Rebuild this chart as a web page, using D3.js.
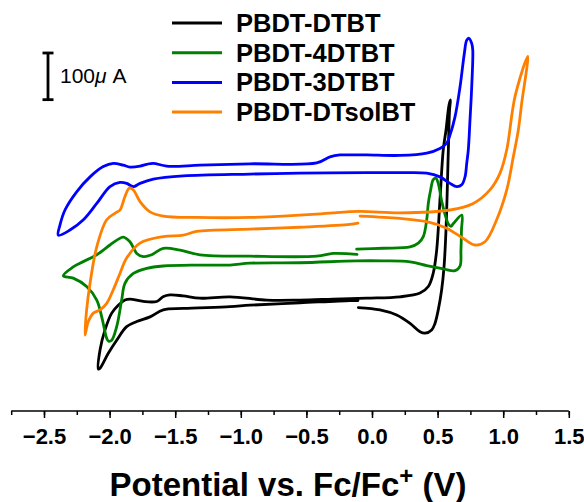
<!DOCTYPE html>
<html>
<head>
<meta charset="utf-8">
<script src="https://cdn.jsdelivr.net/npm/d3@7"></script>
<style>
  html, body { margin: 0; padding: 0; background: #fff; }
  svg { display: block; }
  text { font-family: "Liberation Sans", Arial, sans-serif; }
</style>
</head>
<body>
<script>
// ---- data (potential in V vs Fc/Fc+, current in µA, curves offset) ----
const seriesNames = ["PBDT-DTBT", "PBDT-4DTBT", "PBDT-3DTBT", "PBDT-DTsolBT"];
const seriesColors = ["#000000", "#008000", "#0000ff", "#ff8000"];

const dtbtV = [-0.104,0.061,0.188,0.290,0.366,0.404,0.455,0.480,0.505,0.531,0.549,0.564,0.582,0.591,0.598,0.587,0.564,0.543,0.518,0.493,0.467,0.429,0.366,0.213,-0.040,-0.297,-0.549,-0.803,-1.082,-1.311,-1.441,-1.540,-1.593,-1.641,-1.743,-1.845,-1.883,-1.934,-1.984,-2.035,-2.073,-2.086,-2.073,-2.010,-1.946,-1.870,-1.793,-1.692,-1.591,-1.438,-1.082,-0.930,-0.549,-0.168,-0.107];
const dtbtI = [241,236,225,207,189,186,193,207,236,279,328,407,579,664,686,675,621,579,471,364,315,286,272,264,261,259,257,257,264,261,266,268,264,254,254,259,257,246,229,193,150,109,111,143,171,200,211,221,236,239,243,246,251,256,256];

const d4V = [-0.117,0.086,0.290,0.353,0.391,0.417,0.429,0.447,0.467,0.488,0.505,0.531,0.556,0.582,0.602,0.620,0.684,0.682,0.678,0.671,0.633,0.543,0.417,0.290,0.086,-0.117,-0.549,-0.930,-1.082,-1.336,-1.591,-1.717,-1.819,-1.883,-1.908,-1.946,-1.984,-2.008,-2.022,-2.060,-2.098,-2.175,-2.277,-2.353,-2.277,-2.226,-2.098,-1.997,-1.936,-1.896,-1.845,-1.793,-1.743,-1.679,-1.591,-1.463,-1.311,-0.930,-0.421,-0.297,-0.168,-0.114];
const d4I = [366,368,371,379,393,429,464,493,515,518,507,469,441,420,415,421,439,407,364,330,320,324,331,339,341,341,337,336,332,332,330,325,314,293,257,200,171,169,175,221,257,286,304,309,328,336,354,375,387,392,382,357,350,354,368,364,354,351,351,357,356,355];

const d3V = [-0.168,-0.040,0.213,0.417,0.518,0.569,0.595,0.633,0.671,0.704,0.722,0.739,0.760,0.768,0.760,0.747,0.734,0.722,0.709,0.684,0.646,0.595,0.518,0.417,0.213,-0.040,-0.549,-0.930,-1.438,-1.667,-1.768,-1.819,-1.870,-1.921,-1.997,-2.098,-2.200,-2.302,-2.391,-2.378,-2.340,-2.251,-2.149,-2.048,-1.972,-1.896,-1.845,-1.768,-1.717,-1.667,-1.565,-1.311,-0.930,-0.421,-0.320,-0.244,-0.168];
const d3I = [568,568,567,572,582,593,611,650,714,786,814,818,807,793,714,643,579,550,521,504,500,507,521,529,530,530,529,527,523,516,507,500,507,509,500,464,429,407,396,418,450,489,521,543,550,546,542,544,548,550,544,546,549,551,564,568,568];

const solV = [-0.091,0.213,0.417,0.569,0.696,0.785,0.861,0.950,1.027,1.077,1.115,1.141,1.187,1.090,1.027,0.976,0.899,0.772,0.595,0.213,-0.091,-0.297,-0.421,-0.930,-1.336,-1.591,-1.692,-1.768,-1.819,-1.850,-1.883,-1.921,-1.959,-2.022,-2.098,-2.149,-2.175,-2.188,-2.162,-2.124,-2.073,-2.022,-1.972,-1.921,-1.870,-1.768,-1.591,-1.438,-1.336,-0.930,-0.549,-0.168,-0.107];
const solI = [437,432,425,411,389,375,382,429,493,564,621,679,779,693,579,529,493,464,450,444,447,444,441,434,434,437,446,468,493,497,479,450,443,429,371,293,236,182,211,229,236,250,279,314,347,379,393,396,404,409,413,419,422];

const xTicks = [-2.5, -2.0, -1.5, -1.0, -0.5, 0.0, 0.5, 1.0, 1.5];
const scaleBarValue = 100; // µA

const seriesV = [dtbtV, d4V, d3V, solV];
const seriesI = [dtbtI, d4I, d3I, solI];

// ---- layout ----
const W = 584, H = 502;
const svg = d3.select("body").append("svg").attr("width", W).attr("height", H);

const x = d3.scaleLinear().domain([-2.75, 1.5]).range([11.2, 568.8]);
const y = d3.scaleLinear().domain([0, 900]).range([420, 0]);
const axisY = 411;

// curves
const line = d3.line().x(d => x(d[0])).y(d => y(d[1])).curve(d3.curveCatmullRom.alpha(0.5));
seriesV.forEach((vs, k) => {
  const pts = vs.map((v, i) => [v, seriesI[k][i]]);
  svg.append("path").datum(pts)
    .attr("d", line)
    .attr("fill", "none")
    .attr("stroke", seriesColors[k])
    .attr("stroke-width", 2.8)
    .attr("stroke-linejoin", "round")
    .attr("stroke-linecap", "round");
});

// x axis
const minorTicks = d3.range(-2.75, 1.5001, 0.25);
const gAxis = svg.append("g").attr("transform", `translate(0,${axisY})`);
gAxis.call(d3.axisBottom(x).tickValues(minorTicks).tickSize(4).tickFormat(""));
gAxis.call(g => g.select(".domain").remove());
gAxis.append("g").call(d3.axisBottom(x).tickValues(xTicks).tickSize(7).tickPadding(10)
    .tickFormat(d3.format(".1f")))
  .call(g => g.select(".domain").remove())
  .call(g => g.selectAll("text").attr("font-size", 22).attr("font-weight", "bold")
      .attr("fill", "#000").attr("font-family", "Liberation Sans, Arial, sans-serif"));
gAxis.selectAll("line").attr("stroke", "#000").attr("stroke-width", 1.5);
gAxis.append("line").attr("x1", x(-2.75)).attr("x2", x(1.5)).attr("y1", 0).attr("y2", 0)
  .attr("stroke", "#000").attr("stroke-width", 1.5);

// axis title
const title = svg.append("text").attr("x", 288).attr("y", 496)
  .attr("text-anchor", "middle").attr("font-size", 33).attr("font-weight", "bold");
title.append("tspan").text("Potential vs. Fc/Fc");
title.append("tspan").text("+").attr("font-size", 24).attr("dy", -12);
title.append("tspan").text(" (V)").attr("dy", 12);

// scale bar
const sbX = 48, sbTop = 53;
const sbBottom = sbTop + (y(0) - y(scaleBarValue));
const sb = svg.append("g").attr("stroke", "#000").attr("stroke-width", 2.8);
sb.append("line").attr("x1", sbX).attr("x2", sbX).attr("y1", sbTop).attr("y2", sbBottom);
sb.append("line").attr("x1", sbX - 5.5).attr("x2", sbX + 5.5).attr("y1", sbTop).attr("y2", sbTop);
sb.append("line").attr("x1", sbX - 5.5).attr("x2", sbX + 5.5).attr("y1", sbBottom).attr("y2", sbBottom);
const sbt = svg.append("text").attr("x", 60).attr("y", (sbTop + sbBottom) / 2 + 7)
  .attr("font-size", 21);
sbt.append("tspan").text(scaleBarValue);
sbt.append("tspan").text("μ").attr("font-style", "italic");
sbt.append("tspan").text(" A");

// legend
const legY0 = 23, legDy = 29.7;
seriesNames.forEach((name, k) => {
  const yy = legY0 + k * legDy;
  svg.append("line").attr("x1", 172).attr("x2", 222).attr("y1", yy).attr("y2", yy)
    .attr("stroke", seriesColors[k]).attr("stroke-width", 3);
  svg.append("text").attr("x", 236).attr("y", yy + 9).attr("font-size", 25.5)
    .attr("font-weight", "bold").text(name);
});
</script>
</body>
</html>
